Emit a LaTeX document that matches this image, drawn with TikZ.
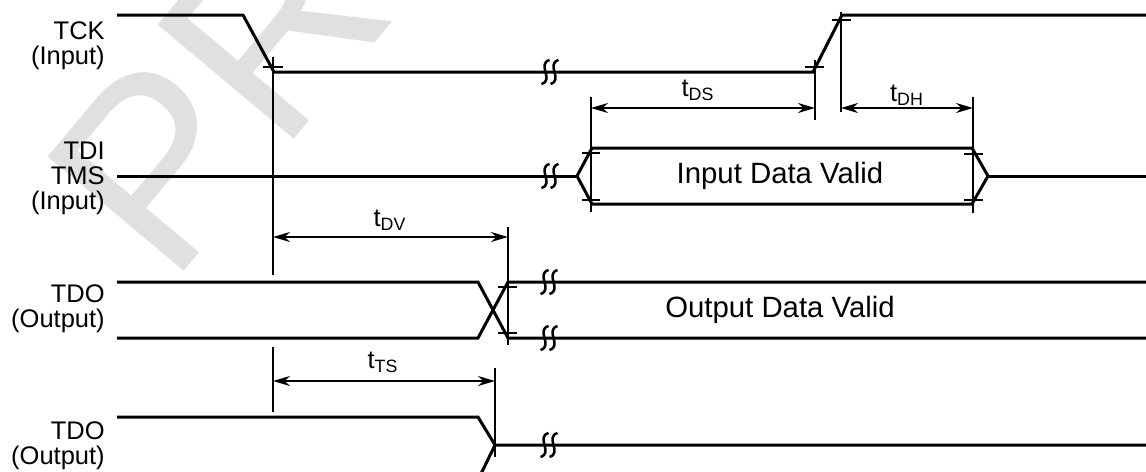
\documentclass[tikz,border=0pt]{standalone}
\usepackage{fontspec}
\setmainfont{Liberation Sans}
\usetikzlibrary{arrows.meta}
\tikzset{
  sig/.style={line width=0.06cm,line join=miter},
  refline/.style={line width=0.04cm},
  dimarrow/.style={line width=0.04cm,
    {Stealth[length=0.34cm,width=0.2cm]}-{Stealth[length=0.34cm,width=0.2cm]}},
  siglabel/.style={anchor=east,align=right,inner sep=0pt,
    font=\fontsize{14.5}{14.2}\selectfont},
  timelabel/.style={inner sep=0pt,font=\fontsize{14.5}{14.5}\selectfont},
  datalabel/.style={inner sep=0pt,font=\fontsize{16.7}{16.7}\selectfont},
}
% break mark on a signal line
\newcommand\sigbreak[2]{%
  \foreach \dx in {-4.5,4.5}
    \draw[line width=0.05cm] (#1+\dx+4,#2-12)
      .. controls (#1+\dx-9,#2-8) and (#1+\dx+9,#2+8) .. (#1+\dx-4,#2+12);
}
\begin{document}
\begin{tikzpicture}[x=0.02cm,y=-0.02cm]
  \useasboundingbox (0,0) rectangle (1146,471);
  \clip (0,0) rectangle (1146,471);
  \node[rotate=50,anchor=base west,text=black!12,inner sep=0pt,
    font=\fontsize{147}{147}\selectfont] (wmark) at (170,288) {PRELIMINARY};

  % signal names
  \node[siglabel] (tck) at (105,46) {TCK\\(Input)};
  \node[siglabel] (tdi) at (105,178) {TDI\\TMS\\(Input)};
  \node[siglabel] (tdoa) at (105,309) {TDO\\(Output)};
  \node[siglabel] (tdob) at (105,446) {TDO\\(Output)};

  % reference points
  \coordinate (fall) at (273,72);
  \coordinate (riselo) at (815,72);
  \coordinate (risehi) at (841,15);
  \coordinate (dsetup) at (592,148);
  \coordinate (dhold) at (973,148);
  \coordinate (dvalid) at (508,282);
  \coordinate (tsoff) at (495,445);

  % TCK
  \draw[sig] (117,15) -- (243,15) -- (274,72) -- (813,72) -- (842,15) -- (1146,15);
  \sigbreak{550}{72}
  % TDI / TMS
  \draw[sig] (117,176) -- (577,176);
  \draw[sig] (577,176) -- (592,148) -- (972,148) -- (988,176) -- (972,204)
    -- (592,204) -- cycle;
  \draw[sig] (988,176) -- (1146,176);
  \sigbreak{550}{176}
  \node[datalabel] (idv) at (780,176) {Input Data Valid};
  % TDO
  \draw[sig] (117,282) -- (478,282) -- (508,338) -- (1146,338);
  \draw[sig] (117,338) -- (478,338) -- (508,282) -- (1146,282);
  \sigbreak{549}{282}
  \sigbreak{549}{338}
  \node[datalabel] (odv) at (780,310) {Output Data Valid};
  % TDO off
  \draw[sig] (117,417) -- (478,417) -- (tsoff) -- (1146,445);
  \draw[sig] (478,480) -- (tsoff);
  \sigbreak{549}{445}

  % reference lines and ticks
  \draw[refline] (273,57) -- (273,275);
  \draw[refline] (273,347) -- (273,412);
  \draw[refline] (263,67) -- (283,67);
  \draw[refline] (815,60) -- (815,120);
  \draw[refline] (805,67) -- (824,67);
  \draw[refline] (841,12) -- (841,112);
  \draw[refline] (832,20) -- (851,20);
  \draw[refline] (591,97) -- (591,212);
  \draw[refline] (582,153) -- (600,153);
  \draw[refline] (582,200) -- (600,200);
  \draw[refline] (973,97) -- (973,213);
  \draw[refline] (964,154) -- (983,154);
  \draw[refline] (964,200) -- (983,200);
  \draw[refline] (508,227) -- (508,345);
  \draw[refline] (498,287) -- (517,287);
  \draw[refline] (498,333) -- (517,333);
  \draw[refline] (495,368) -- (495,457);

  % timing arrows
  \coordinate (ds-l) at (591,108);
  \coordinate (ds-r) at (815,108);
  \coordinate (dh-l) at (841,108);
  \coordinate (dh-r) at (973,108);
  \coordinate (dv-l) at (273,237);
  \coordinate (dv-r) at (508,237);
  \coordinate (ts-l) at (273,381);
  \coordinate (ts-r) at (495,381);
  \draw[dimarrow] (ds-l) -- (ds-r);
  \draw[dimarrow] (dh-l) -- (dh-r);
  \draw[dimarrow] (dv-l) -- (dv-r);
  \draw[dimarrow] (ts-l) -- (ts-r);
  \node[timelabel] (tds) at (698,90) {t\textsubscript{DS}};
  \node[timelabel] (tdh) at (907,95) {t\textsubscript{DH}};
  \node[timelabel] (tdv) at (390,220) {t\textsubscript{DV}};
  \node[timelabel] (tts) at (383,362) {t\textsubscript{TS}};
\end{tikzpicture}
\end{document}
